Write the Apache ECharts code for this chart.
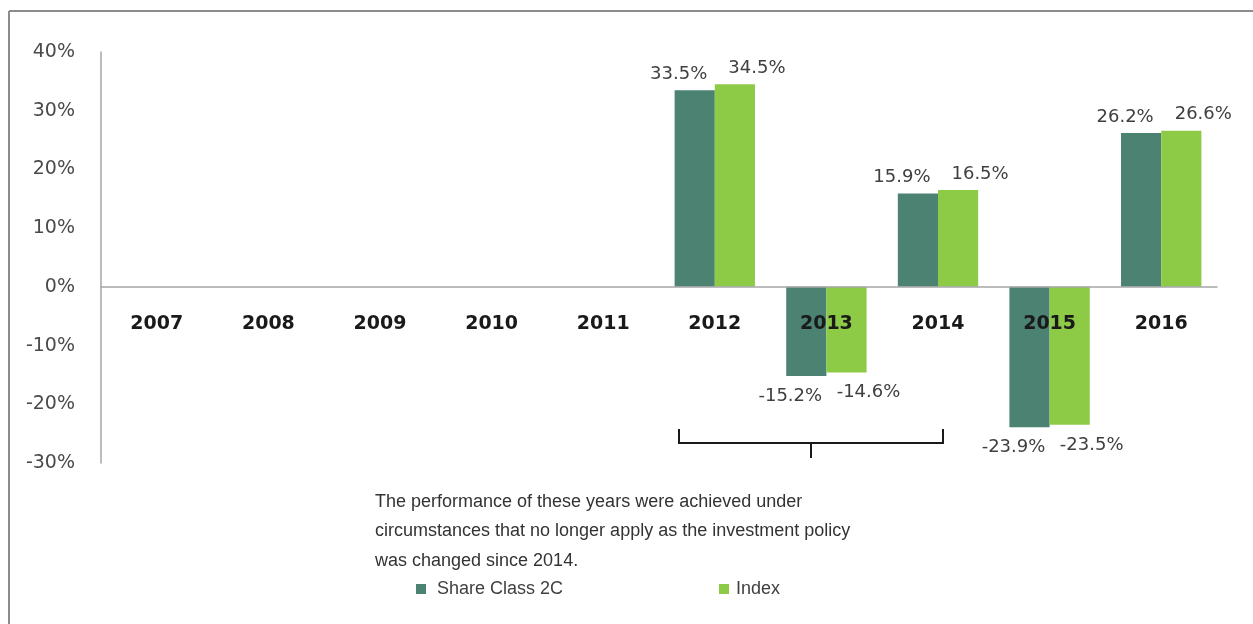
<!DOCTYPE html>
<html>
<head>
<meta charset="utf-8">
<script src="https://cdn.jsdelivr.net/npm/echarts@6/dist/echarts.min.js"></script>
<style>
html,body{margin:0;padding:0;background:#fff;}
#chart{width:1253px;height:624px;}
</style>
</head>
<body>
<div id="chart"></div>
<script>
const years = ['2007','2008','2009','2010','2011','2012','2013','2014','2015','2016'];
const shareClass2C = [null, null, null, null, null, 33.5, -15.2, 15.9, -23.9, 26.2];
const indexValues = [null, null, null, null, null, 34.5, -14.6, 16.5, -23.5, 26.6];
const yTicks = [-30, -20, -10, 0, 10, 20, 30, 40];
const noteLines = [
  'The performance of these years were achieved under',
  'circumstances that no longer apply as the investment policy',
  'was changed since 2014.'
];

const DARK = '#4b8272';
const LIGHT = '#8dcb47';
const NUMFONT = '"DejaVu Sans", sans-serif';
const TXTFONT = '"Liberation Sans", "DejaVu Sans", sans-serif';

const GRID = { left: 101, right: 36, top: 52, bottom: 161 };
const PLOT_H = 624 - GRID.top - GRID.bottom;
const yMin = yTicks[0], yMax = yTicks[yTicks.length - 1];
const zeroOffset = -PLOT_H * (0 - yMin) / (yMax - yMin);

const chart = echarts.init(document.getElementById('chart'));

function labelCfg(dx, v) {
  return {
    show: true,
    position: v >= 0 ? 'top' : 'bottom',
    fontFamily: NUMFONT,
    fontSize: 18,
    color: '#404040',
    distance: v >= 0 ? 7 : 11,
    offset: [dx, 0],
    formatter: p => p.value.toFixed(1) + '%'
  };
}

function mkData(arr, dx) {
  return arr.map(v => v == null ? null : { value: v, label: labelCfg(dx, v) });
}

chart.setOption({
  animation: false,
  backgroundColor: '#fff',
  grid: Object.assign({ containLabel: false }, GRID),
  xAxis: {
    type: 'category',
    data: years,
    z: 5,
    position: 'bottom',
    offset: zeroOffset,
    axisLine: { show: true, onZero: false, lineStyle: { color: '#a6a6a6', width: 1.5 } },
    axisTick: { show: false },
    axisLabel: {
      margin: 28,
      fontFamily: NUMFONT,
      fontSize: 19,
      fontWeight: 'bold',
      color: '#1a1a1a'
    }
  },
  yAxis: {
    type: 'value',
    min: yMin,
    max: yMax,
    interval: 10,
    axisLine: { show: true, lineStyle: { color: '#a6a6a6', width: 1.5 } },
    axisTick: { show: false },
    splitLine: { show: false },
    axisLabel: {
      margin: 26,
      fontFamily: NUMFONT,
      fontSize: 19,
      color: '#4a4a4a',
      formatter: v => v + '%'
    }
  },
  legend: [
    {
      data: ['Share Class 2C'],
      left: 411, top: 575,
      icon: 'rect', itemWidth: 10, itemHeight: 10,
      textStyle: { fontFamily: TXTFONT, fontSize: 18, color: '#404040', padding: [0, 0, 0, 6] }
    },
    {
      data: ['Index'],
      left: 714, top: 575,
      icon: 'rect', itemWidth: 10, itemHeight: 10,
      textStyle: { fontFamily: TXTFONT, fontSize: 18, color: '#404040', padding: [0, 0, 0, 2] }
    }
  ],
  series: [
    {
      name: 'Share Class 2C',
      type: 'bar',
      data: mkData(shareClass2C, -16),
      itemStyle: { color: DARK },
      barGap: '0%',
      barCategoryGap: '28%'
    },
    {
      name: 'Index',
      type: 'bar',
      data: mkData(indexValues, 22),
      itemStyle: { color: LIGHT },
      barGap: '0%',
      barCategoryGap: '28%'
    }
  ],
  graphic: [
    { type: 'line', shape: { x1: 9, y1: 11, x2: 9, y2: 624 }, style: { stroke: '#8c8c8c', lineWidth: 2 } },
    { type: 'line', shape: { x1: 9, y1: 11, x2: 1253, y2: 11 }, style: { stroke: '#8c8c8c', lineWidth: 2 } },
    {
      type: 'polyline',
      shape: { points: [[679, 429], [679, 443], [943, 443], [943, 429]] },
      style: { stroke: '#1a1a1a', lineWidth: 2, fill: null }
    },
    { type: 'line', shape: { x1: 811, y1: 443, x2: 811, y2: 458 }, style: { stroke: '#1a1a1a', lineWidth: 2 } },
    {
      type: 'text', left: 375, top: 487,
      style: {
        text: noteLines.join('\n'),
        fontFamily: TXTFONT, fontSize: 18, lineHeight: 29.5, fill: '#333333'
      }
    }
  ]
});
</script>
</body>
</html>
